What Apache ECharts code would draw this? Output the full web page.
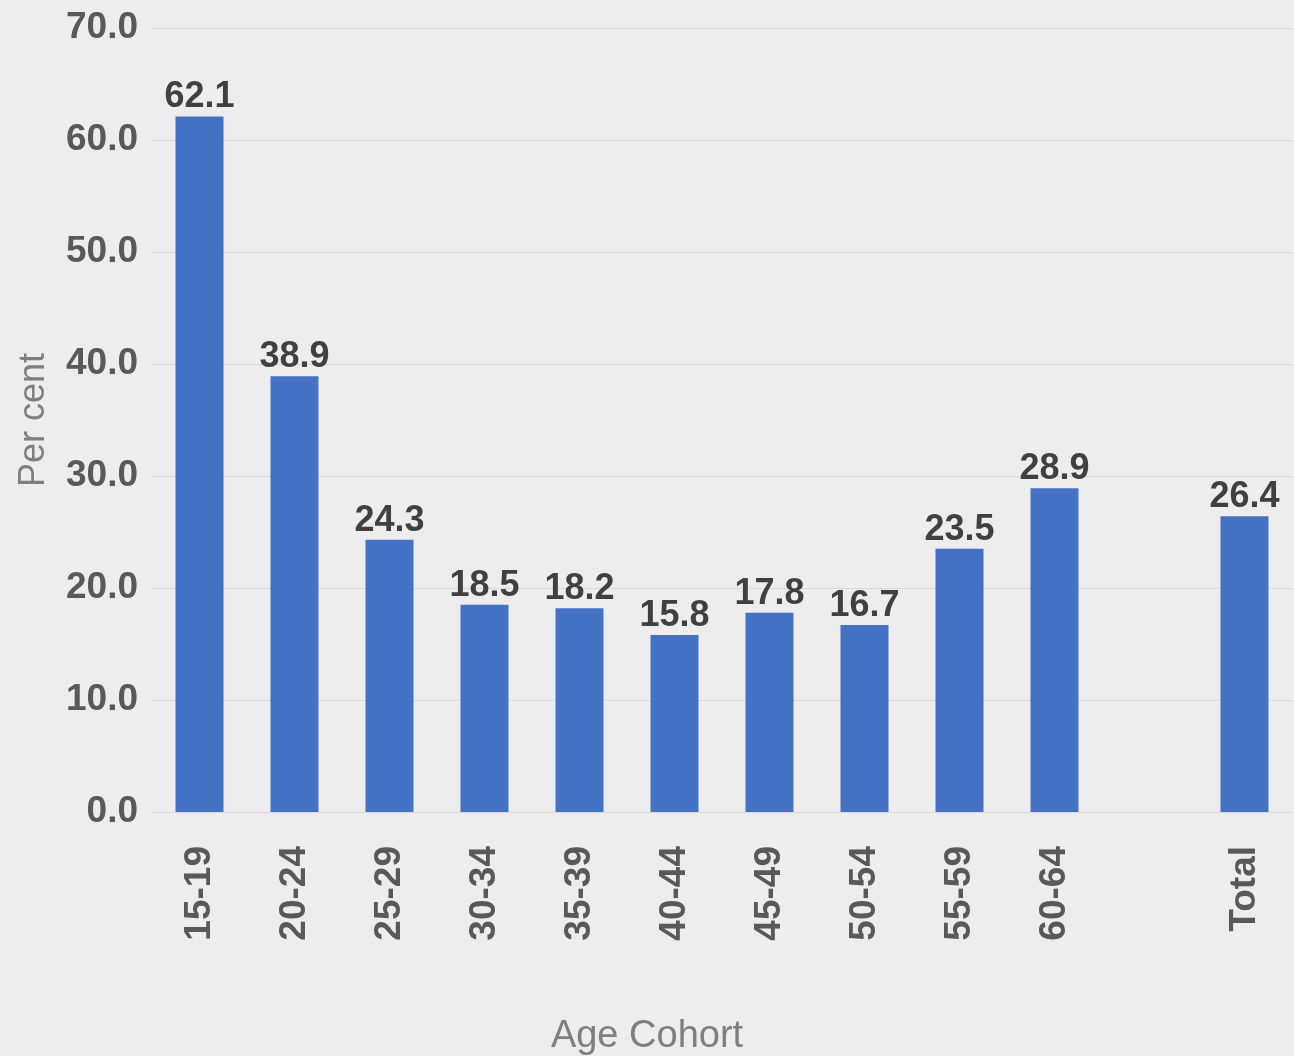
<!DOCTYPE html>
<html>
<head>
<meta charset="utf-8">
<script src="https://cdn.jsdelivr.net/npm/echarts@6/dist/echarts.min.js"></script>
<style>
html,body{margin:0;padding:0;background:#ededed;}
#c{width:1294px;height:1056px;}
</style>
</head>
<body>
<div id="c"></div>
<script>
const categories = ['15-19','20-24','25-29','30-34','35-39','40-44','45-49','50-54','55-59','60-64','','Total'];
const values = [62.1, 38.9, 24.3, 18.5, 18.2, 15.8, 17.8, 16.7, 23.5, 28.9, null, 26.4];
const yTicks = {min: 0, max: 70, interval: 10};
const yAxisName = 'Per cent';
const xAxisName = 'Age Cohort';

const FONT = '"Liberation Sans", Arial, sans-serif';
const chart = echarts.init(document.getElementById('c'), null, {renderer: 'canvas'});
chart.setOption({
  backgroundColor: '#ededed',
  animation: false,
  grid: {left: 152, right: 2, top: 28, bottom: 244, containLabel: false},
  xAxis: {
    type: 'category',
    data: categories,
    axisLine: {show: true, lineStyle: {color: '#d9d9d9', width: 1}},
    axisTick: {show: false},
    axisLabel: {
      rotate: 90, margin: 34, color: '#595959',
      fontFamily: FONT, fontWeight: 'bold', fontSize: 37, interval: 0
    }
  },
  yAxis: {
    type: 'value',
    min: yTicks.min, max: yTicks.max, interval: yTicks.interval,
    name: yAxisName, nameLocation: 'middle', nameGap: 100,
    nameTextStyle: {color: '#7f7f7f', fontFamily: FONT, fontSize: 36},
    axisLine: {show: false},
    axisTick: {show: false},
    splitLine: {lineStyle: {color: '#d9d9d9', width: 1}},
    axisLabel: {
      margin: 14, color: '#595959', fontFamily: FONT, fontWeight: 'bold', fontSize: 37,
      formatter: v => v.toFixed(1)
    }
  },
  series: [{
    type: 'bar',
    data: values,
    barWidth: 48,
    itemStyle: {color: '#4472c4'},
    label: {
      show: true, position: 'top', distance: 1,
      color: '#404040', fontFamily: FONT, fontWeight: 'bold', fontSize: 36,
      formatter: p => p.value == null ? '' : p.value.toFixed(1)
    }
  }],
  graphic: [{
    type: 'text', left: 'center', top: 1018,
    style: {text: xAxisName, fill: '#7f7f7f', font: '38px ' + FONT}
  }]
});
</script>
</body>
</html>
